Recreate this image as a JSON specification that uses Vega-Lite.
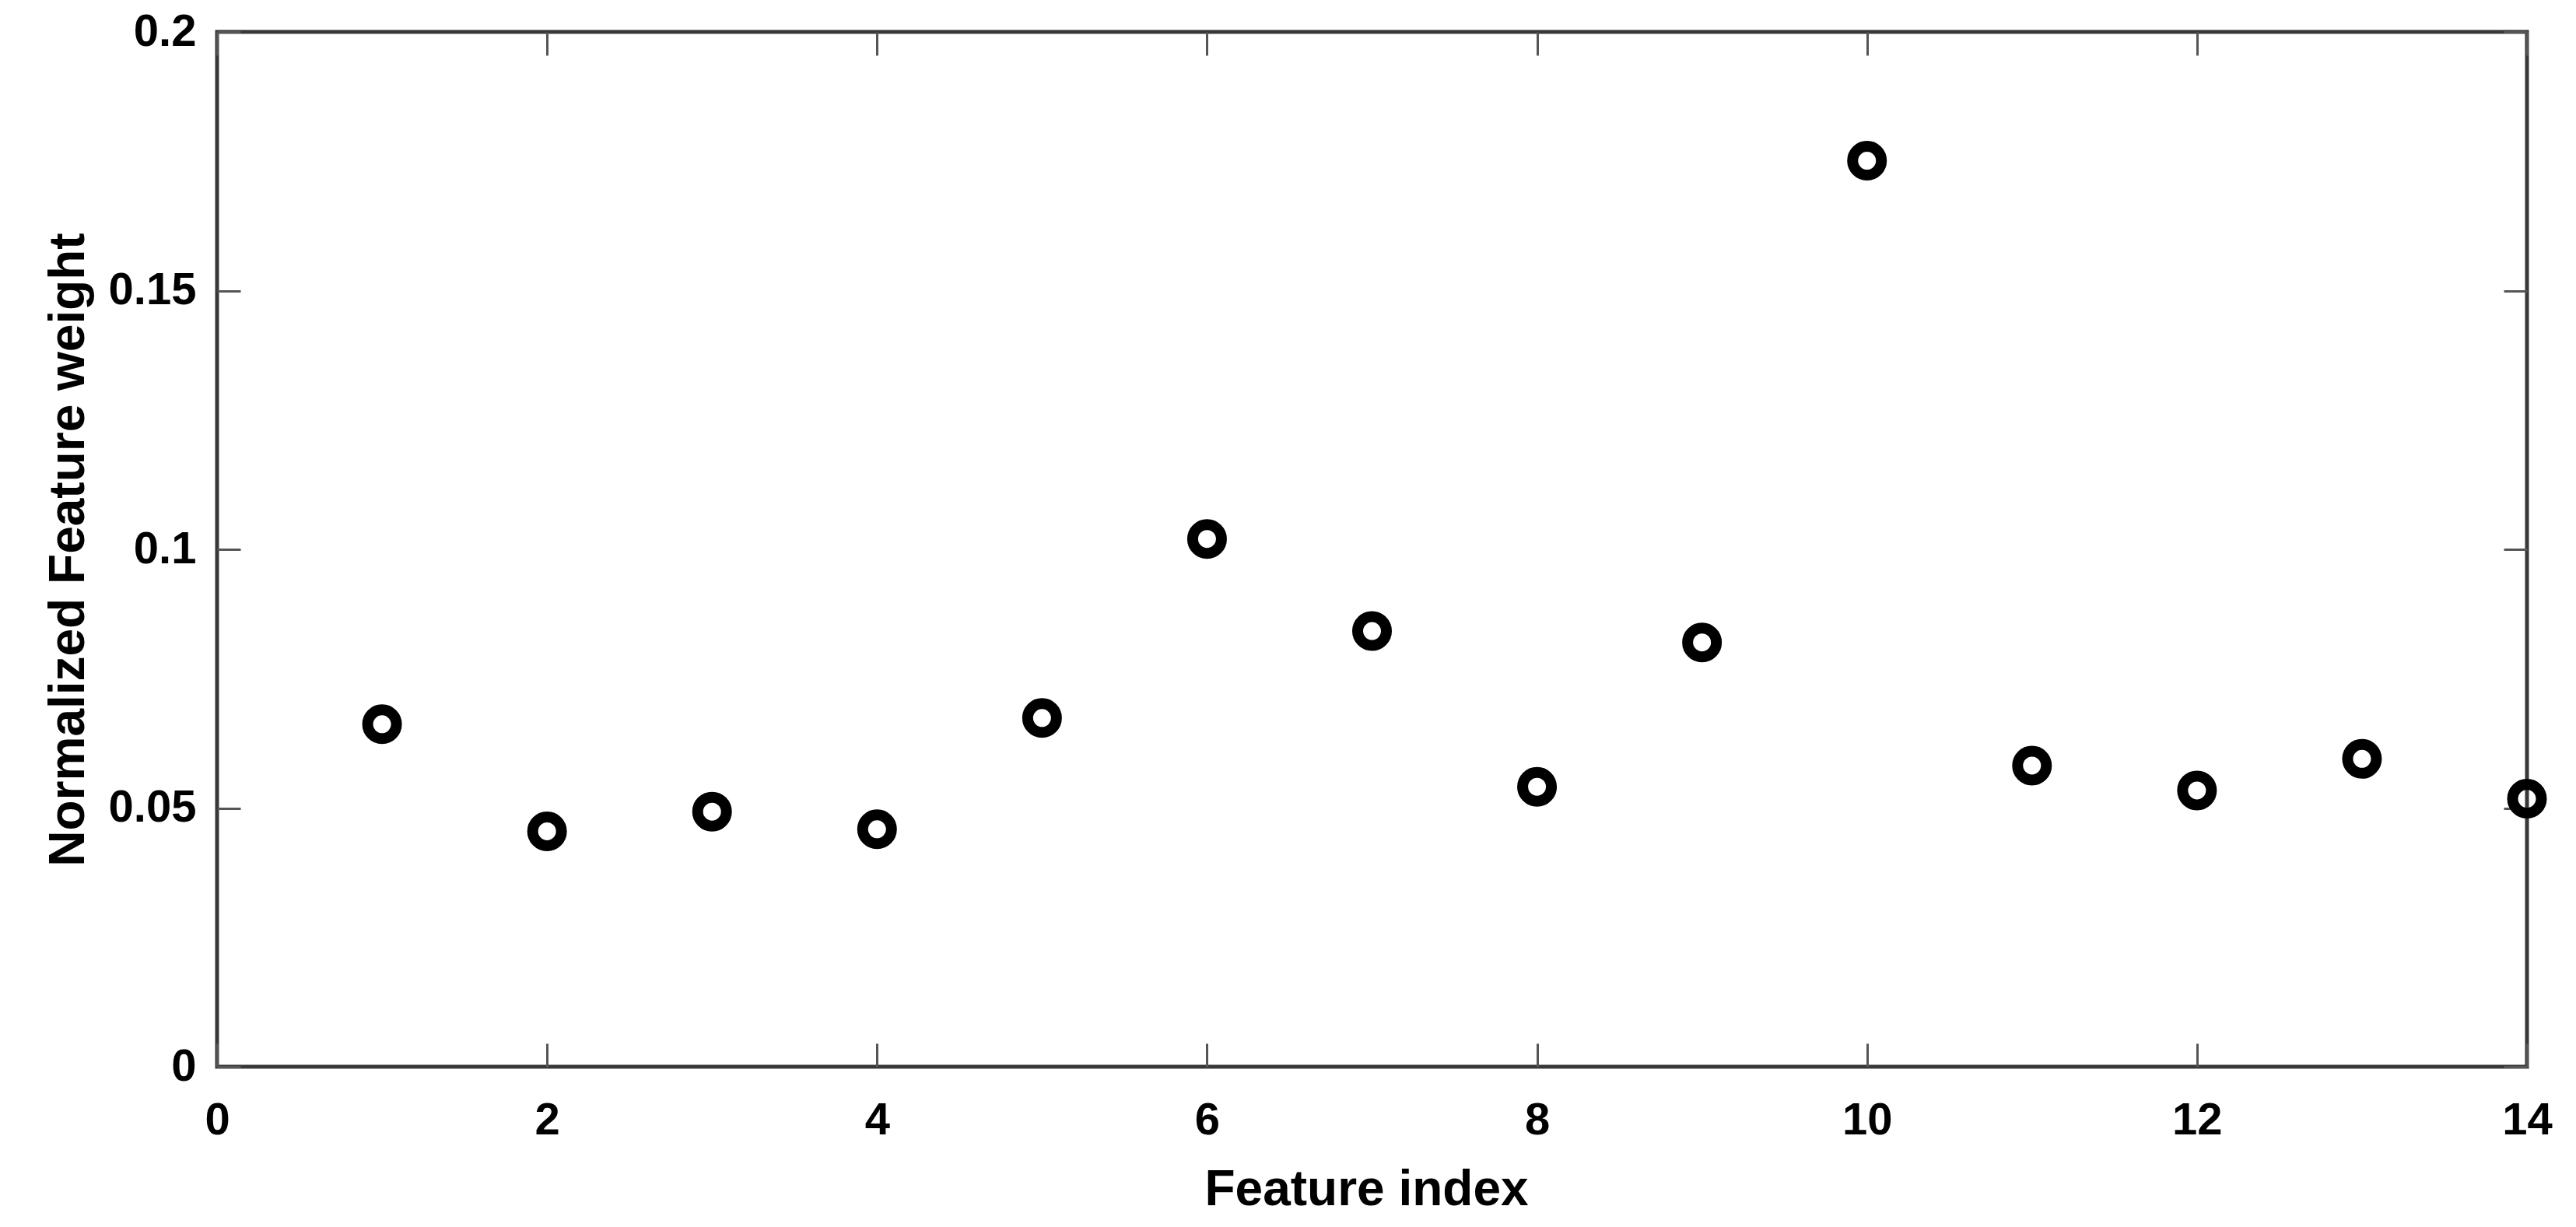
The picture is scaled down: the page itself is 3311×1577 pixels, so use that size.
{
  "$schema": "https://vega.github.io/schema/vega-lite/v6.json",
  "width": 2969,
  "height": 1330,
  "autosize": "none",
  "padding": {"left": 279, "top": 41, "right": 63, "bottom": 206},
  "background": "white",
  "config": {
    "view": {"stroke": "#383838", "strokeWidth": 5},
    "font": "Liberation Sans",
    "axis": {
      "domain": false,
      "grid": false,
      "tickColor": "#555555",
      "tickWidth": 3,
      "tickSize": -30,
      "labelFont": "Liberation Sans",
      "labelFontSize": 58,
      "labelFontWeight": "bold",
      "labelColor": "black",
      "titleFont": "Liberation Sans",
      "titleFontSize": 64,
      "titleFontWeight": "bold",
      "titleColor": "black",
      "labelFlush": false,
      "labelOverlap": false
    }
  },
  "data": {
    "values": [
      {"index": 1, "weight": 0.0662},
      {"index": 2, "weight": 0.0455},
      {"index": 3, "weight": 0.0493},
      {"index": 4, "weight": 0.0459},
      {"index": 5, "weight": 0.0674},
      {"index": 6, "weight": 0.1020},
      {"index": 7, "weight": 0.0842},
      {"index": 8, "weight": 0.0541},
      {"index": 9, "weight": 0.0820},
      {"index": 10, "weight": 0.1751},
      {"index": 11, "weight": 0.0582},
      {"index": 12, "weight": 0.0534},
      {"index": 13, "weight": 0.0595},
      {"index": 14, "weight": 0.0518}
    ]
  },
  "layer": [
    {
      "mark": {"type": "point", "shape": "circle", "filled": false, "color": "black", "strokeWidth": 14, "size": 1369, "opacity": 1},
      "encoding": {
        "x": {
          "field": "index", "type": "quantitative",
          "scale": {"domain": [0, 14], "nice": false, "zero": false},
          "axis": {
            "orient": "bottom",
            "values": [0, 2, 4, 6, 8, 10, 12, 14],
            "labelPadding": 70,
            "title": "Feature index",
            "titleBaseline": "alphabetic",
            "titleY": 177,
            "titleX": 1477
          }
        },
        "y": {
          "field": "weight", "type": "quantitative",
          "scale": {"domain": [0, 0.2], "nice": false},
          "axis": {
            "orient": "left",
            "values": [0, 0.05, 0.1, 0.15, 0.2],
            "format": "~g",
            "labelPadding": 57,
            "labelBaseline": "middle",
            "title": "Normalized Feature weight",
            "titleBaseline": "alphabetic",
            "titleX": -172,
            "titleY": 665
          }
        }
      }
    },
    {
      "mark": {"type": "point", "opacity": 0},
      "encoding": {
        "x": {
          "field": "index", "type": "quantitative",
          "axis": {"orient": "top", "values": [0, 2, 4, 6, 8, 10, 12, 14], "labels": false, "title": null}
        },
        "y": {
          "field": "weight", "type": "quantitative",
          "axis": {"orient": "right", "values": [0, 0.05, 0.1, 0.15, 0.2], "labels": false, "title": null}
        }
      }
    }
  ],
  "resolve": {"axis": {"x": "independent", "y": "independent"}}
}
